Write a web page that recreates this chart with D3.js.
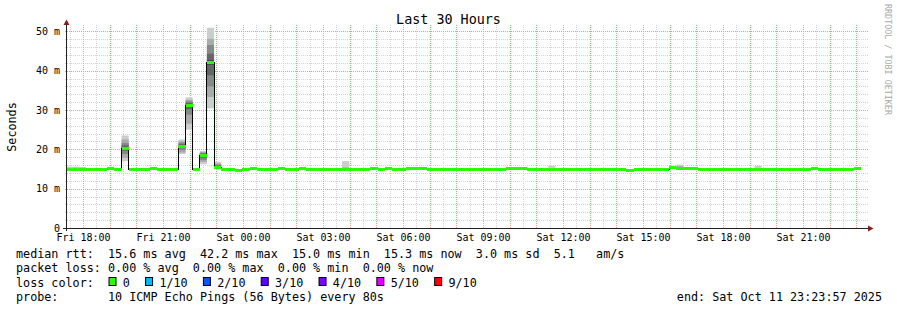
<!DOCTYPE html>
<html>
<head>
<meta charset="utf-8">
<title>Last 30 Hours</title>
<script src="https://cdn.jsdelivr.net/npm/d3@7"></script>
<style>
  body { margin: 0; background: #fff; }
  svg { display: block; font-family: "DejaVu Sans Mono", monospace; }
  .pre { white-space: pre; }
</style>
</head>
<body>
<svg id="chart" width="897" height="310"></svg>
<script>
// 30 hour window, rrd buckets of 12 x 80s
var endTime = new Date(2025, 9, 11, 23, 23, 57);
var startTime = new Date(+endTime - 30 * 3600 * 1000);
var bucketSec = 960;
var firstBucket = new Date(+startTime - 310 * 1000);

// median rtt per bucket (ms)
var medians = [
  15.0,15.0,15.0,15.0,15.0,15.0,15.3,15.0,20.3,15.0,
  15.0,15.0,15.3,15.0,15.0,15.0,20.8,31.2,15.0,18.5,
  42.1,15.6,15.0,15.0,14.7,15.0,15.3,15.0,15.0,15.0,
  15.3,15.0,15.0,15.3,15.0,15.0,15.0,15.0,15.0,15.0,
  15.0,15.0,15.0,15.3,15.0,15.3,15.0,15.0,15.3,15.3,
  15.3,15.0,15.0,15.0,15.0,15.0,15.0,15.0,15.0,15.0,
  15.0,15.0,15.3,15.3,15.3,15.0,15.0,15.0,15.0,15.0,
  15.0,15.0,15.0,15.0,15.0,15.0,15.0,15.0,15.0,14.7,
  15.0,15.0,15.0,15.0,15.0,15.5,15.3,15.3,15.3,15.0,
  15.0,15.0,15.0,15.0,15.0,15.0,15.0,15.0,15.0,15.0,
  15.0,15.0,15.0,15.0,15.0,15.3,15.0,15.0,15.0,15.0,
  15.0,15.3
];

// buckets with visible smoke, and their 10 sorted pings (ms)
var smokeIdx = [0, 1, 2, 8, 16, 17, 19, 20, 21, 39, 68, 86, 97];
var smokePings = [
  [14.9,14.9,15.0,15.0,15.0,15.0,15.1,15.2,15.3,15.6],
  [14.9,15.0,15.0,15.0,15.0,15.0,15.1,15.2,15.3,15.6],
  [14.9,15.0,15.0,15.0,15.0,15.0,15.1,15.2,15.3,15.5],
  [17.0,17.8,18.8,19.6,20.1,20.5,21.0,21.6,22.5,23.5],
  [18.8,19.2,19.8,20.3,20.6,21.0,21.3,21.7,22.0,22.5],
  [25.0,26.5,28.8,30.2,31.0,31.4,31.8,32.2,32.6,33.2],
  [16.2,16.8,17.3,17.9,18.4,18.6,18.9,19.1,19.3,19.6],
  [30.4,33.3,36.0,38.8,41.5,42.7,44.3,46.5,48.1,50.9],
  [14.9,15.1,15.3,15.5,15.6,15.6,15.8,16.1,16.4,16.8],
  [14.9,15.0,15.0,15.0,15.0,15.0,15.1,15.2,15.4,17.0],
  [14.9,15.0,15.0,15.0,15.0,15.0,15.0,15.1,15.2,15.8],
  [15.0,15.1,15.2,15.2,15.3,15.3,15.4,15.5,15.7,16.1],
  [14.9,15.0,15.0,15.0,15.0,15.0,15.0,15.1,15.2,15.8]
];
var smokeShades = ["#cccccc", "#aaaaaa", "#888888", "#666666", "#444444"];

var yTicks = [0, 10, 20, 30, 40, 50];
var lossLabels = ["0", "1/10", "2/10", "3/10", "4/10", "5/10", "9/10"];
var lossColors = ["#26ff00", "#00b8ff", "#0059ff", "#5e00ff", "#7e00ff", "#dd00ff", "#ff0000"];
var rttStats = ["15.6 ms avg", "42.2 ms max", "15.0 ms min", "15.3 ms now", "3.0 ms sd", "5.1   am/s"];
var lossStats = ["0.00 % avg", "0.00 % max", "0.00 % min", "0.00 % now"];
var probeText = "10 ICMP Echo Pings (56 Bytes) every 80s";

var svg = d3.select("#chart");
var plotTop = 25, plotBottom = 228, plotLeft = 67, plotRight = 867;
var x = d3.scaleTime().domain([startTime, endTime]).range([plotLeft, plotRight]);
var y = d3.scaleLinear().domain([0, 51.6]).range([plotBottom, plotTop]);

function bucketTime(i) { return new Date(+firstBucket + i * bucketSec * 1000); }
function px(v) { return Math.round(v) + 0.5; }

// grid: half hours grey, hours red; 2 ms grey, 10 ms red
var grid = svg.append("g");
var halfHours = d3.timeMinute.every(30).range(startTime, endTime).filter(function(d) { return d.getMinutes() !== 0; });
var hours = d3.timeHour.range(startTime, endTime);
var minorY = d3.range(2, 52, 2).filter(function(d) { return d % 10 !== 0; });

function vLines(data, color) {
  grid.append("g").selectAll("line").data(data).enter().append("line")
    .attr("x1", function(d) { return px(x(d)); }).attr("x2", function(d) { return px(x(d)); })
    .attr("y1", plotBottom).attr("y2", plotTop)
    .attr("stroke", color).attr("stroke-width", 1).attr("stroke-dasharray", "1 1")
    .attr("shape-rendering", "crispEdges");
}
function hLines(data, color) {
  grid.append("g").selectAll("line").data(data).enter().append("line")
    .attr("x1", plotLeft - 2).attr("x2", plotRight + 1)
    .attr("y1", function(d) { return px(y(d)); }).attr("y2", function(d) { return px(y(d)); })
    .attr("stroke", color).attr("stroke-width", 1).attr("stroke-dasharray", "1 1")
    .attr("shape-rendering", "crispEdges");
}
vLines(halfHours, "#d2d2d2");
hLines(minorY, "#d2d2d2");
vLines(hours, "#f29494");
hLines(yTicks.slice(1), "#f29494");

// data
svg.append("clipPath").attr("id", "plot").append("rect")
  .attr("x", plotLeft).attr("y", 0).attr("width", plotRight - plotLeft).attr("height", plotBottom);
var plot = svg.append("g").attr("clip-path", "url(#plot)");

smokeIdx.forEach(function(b, k) {
  var p = smokePings[k];
  var x0 = x(bucketTime(b)), x1 = x(bucketTime(b + 1));
  for (var ii = 0; ii < 5; ii++) {
    plot.append("rect")
      .attr("x", x0).attr("width", x1 - x0)
      .attr("y", y(p[9 - ii])).attr("height", y(p[ii]) - y(p[9 - ii]))
      .attr("fill", smokeShades[ii]);
  }
});

var steps = medians.map(function(v, i) { return { t: bucketTime(i), v: v }; });
steps.push({ t: bucketTime(medians.length), v: medians[medians.length - 1] });

plot.append("path").datum(steps)
  .attr("d", d3.line().x(function(d) { return x(d.t); }).y(function(d) { return Math.round(y(d.v)) + 0.5; }).curve(d3.curveStepAfter))
  .attr("fill", "none").attr("stroke", "#000").attr("stroke-width", 1)
  .attr("shape-rendering", "crispEdges");

plot.append("path").datum(steps)
  .attr("d", d3.area().x(function(d) { return x(d.t); })
    .y0(function(d) { return Math.round(y(d.v)) + 2; })
    .y1(function(d) { return Math.round(y(d.v)) - 1; })
    .curve(d3.curveStepAfter))
  .attr("fill", lossColors[0]).attr("shape-rendering", "crispEdges");

// axes
var xAxis = svg.append("g").attr("transform", "translate(0," + plotBottom + ")")
  .call(d3.axisBottom(x).ticks(d3.timeHour.every(3)).tickFormat(d3.timeFormat("%a %H:%M")).tickSize(0).tickPadding(6));
xAxis.select(".domain").remove();
xAxis.attr("font-family", null).attr("font-size", 10);

var yAxis = svg.append("g").attr("transform", "translate(" + plotLeft + ",0)")
  .call(d3.axisLeft(y).tickValues(yTicks).tickFormat(function(d) { return d === 0 ? "0" : d + " m"; }).tickSize(0).tickPadding(7));
yAxis.select(".domain").remove();
yAxis.attr("font-family", null).attr("font-size", 10);

svg.append("line").attr("x1", 63).attr("x2", 869).attr("y1", plotBottom + 0.5).attr("y2", plotBottom + 0.5)
  .attr("stroke", "#222").attr("shape-rendering", "crispEdges");
svg.append("line").attr("x1", plotLeft - 0.5).attr("x2", plotLeft - 0.5).attr("y1", plotBottom + 3).attr("y2", 22)
  .attr("stroke", "#222").attr("shape-rendering", "crispEdges");
svg.append("path").attr("d", "M868,225.5L873.5,228.5L868,231.5Z").attr("fill", "#7f1f1f");
svg.append("path").attr("d", "M63.5,25L66.5,19.5L69.5,25Z").attr("fill", "#7f1f1f");

// titles
svg.append("text").attr("x", 448.5).attr("y", 23.5).attr("text-anchor", "middle")
  .attr("font-size", 13.4).text("Last 30 Hours");
svg.append("text").attr("transform", "translate(16,127) rotate(-90)").attr("text-anchor", "middle")
  .attr("font-size", 11.76).text("Seconds");
svg.append("text").attr("transform", "translate(885,4) rotate(90)")
  .attr("font-size", 8.4).attr("fill", "#aaaaaa").text("RRDTOOL / TOBI OETIKER");

// legend
var fs = 11.76, cw = fs * 0.602;
svg.append("text").attr("class", "pre").attr("x", 16).attr("y", 258).attr("font-size", fs)
  .text("median rtt:  " + rttStats.join("  "));
svg.append("text").attr("class", "pre").attr("x", 16).attr("y", 272.3).attr("font-size", fs)
  .text("packet loss: " + lossStats.join("  "));
svg.append("text").attr("class", "pre").attr("x", 16).attr("y", 286.5).attr("font-size", fs)
  .text("loss color:");
var lx = 108.5;
lossLabels.forEach(function(lbl, i) {
  svg.append("rect").attr("x", lx + 0.5).attr("y", 277.5).attr("width", 7).attr("height", 8)
    .attr("fill", lossColors[i]).attr("stroke", "#000").attr("stroke-width", 1);
  svg.append("text").attr("x", lx + 14.3).attr("y", 286.5).attr("font-size", fs).text(lbl);
  lx = lx + 14.3 + lbl.length * cw + 15.2;
});
svg.append("text").attr("class", "pre").attr("x", 16).attr("y", 300.7).attr("font-size", fs)
  .text("probe:       " + probeText);
svg.append("text").attr("class", "pre").attr("x", 882).attr("y", 300.7).attr("text-anchor", "end")
  .attr("font-size", fs).text(d3.timeFormat("end: %a %b %d %H:%M:%S %Y")(endTime));
</script>
</body>
</html>
